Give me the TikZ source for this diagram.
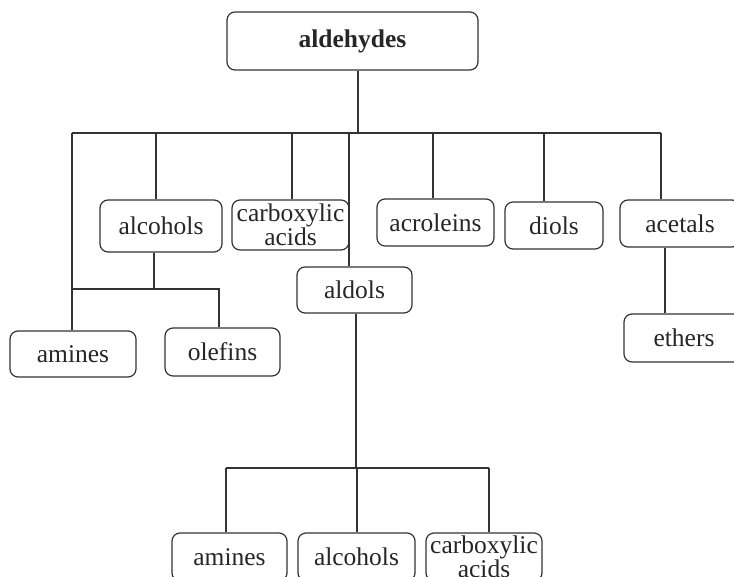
\documentclass[tikz,border=0pt]{standalone}
\usepackage{fontspec}
\setmainfont{Liberation Serif}
\usepackage{tikz}
\usetikzlibrary{positioning}

\tikzset{
  box/.style={draw, rounded corners=8pt, inner sep=0pt, align=center,
    font=\fontsize{25.5}{20}\selectfont, text=black!85},
  link/.style={line width=1.2pt, black!80}
}

\begin{document}
\begin{tikzpicture}[x=1pt, y=-1pt, line width=1.2pt, draw=black!80]
    \useasboundingbox (0,0) rectangle (734,577);
    \clip (0,0) rectangle (734,577);

    % top node
    \node[box, minimum width=251pt, minimum height=58pt, font=\fontsize{25.5}{20}\selectfont\bfseries]
        (top) at (352.5,41) {aldehydes};

    % first row
    \node[box, minimum width=122pt, minimum height=52pt] (alc1)  at (161,226)   {alcohols};
    \node[box, minimum width=117pt, minimum height=50pt] (carb1) at (290.5,225) {carboxylic\\acids};
    \node[box, minimum width=117pt, minimum height=47pt] (acro)  at (435.5,222.5) {acroleins};
    \node[box, minimum width=98pt,  minimum height=47pt] (diols) at (554,225.5) {diols};
    \node[box, minimum width=120pt, minimum height=47pt] (acet)  at (680,223.5) {acetals};
    \node[box, minimum width=115pt, minimum height=46pt] (aldols) at (354.5,290) {aldols};

    % second row
    \node[box, minimum width=126pt, minimum height=46pt] (amines1) at (73,354)    {amines};
    \node[box, minimum width=115pt, minimum height=48pt] (olef)    at (222.5,352) {olefins};
    \node[box, minimum width=120pt, minimum height=48pt] (ethers)  at (684,338)   {ethers};

    % bottom row
    \node[box, minimum width=115pt, minimum height=48pt] (amines2) at (229.5,557) {amines};
    \node[box, minimum width=117pt, minimum height=48pt] (alc2)    at (356.5,557) {alcohols};
    \node[box, minimum width=116pt, minimum height=48pt] (carb2)   at (484,557)   {carboxylic\\acids};

    % main bus
    \coordinate (j0) at (358,133);
    \draw[link] (j0 |- top.south) -- (j0);
    \foreach \n/\x in {amines1/72, alc1/156, carb1/292, aldols/349, acro/433, diols/544, acet/661} {
        \coordinate (d\n) at (\x,133);
        \draw[link] (d\n) -- (d\n |- \n.north);
    }
    \draw[link] (damines1) -- (dacet);

    % alcohols branch
    \coordinate (j1) at (154,289);
    \coordinate (j2) at (219,289);
    \draw[link] (j1 |- alc1.south) -- (j1);
    \draw[link] (damines1 |- j1) -- (j2) -- (j2 |- olef.north);

    % acetals branch
    \coordinate (j4) at (665,0);
    \draw[link] (j4 |- acet.south) -- (j4 |- ethers.north);

    % aldols branch
    \coordinate (j3) at (356,468);
    \draw[link] (j3 |- aldols.south) -- (j3);
    \foreach \n/\x in {amines2/226, alc2/357, carb2/489} {
        \coordinate (e\n) at (\x,468);
        \draw[link] (e\n) -- (e\n |- \n.north);
    }
    \draw[link] (eamines2) -- (ecarb2);
\end{tikzpicture}
\end{document}
